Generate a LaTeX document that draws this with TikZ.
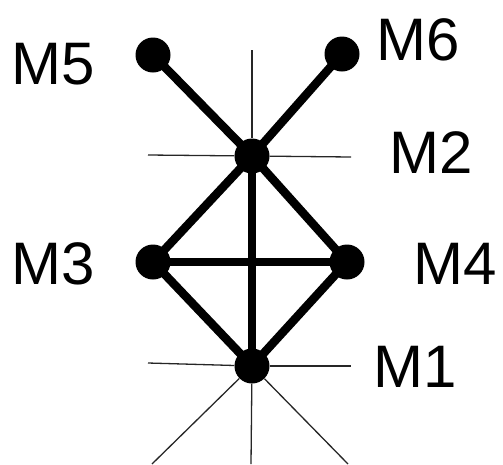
\documentclass[tikz,border=0pt]{standalone}
\usepackage{fontspec}
\setmainfont{Liberation Sans}
\usepackage{tikz}

\begin{document}
\begin{tikzpicture}[x=1pt,y=-1pt,
  dot/.style={circle,fill=black,inner sep=0pt,minimum size=35pt},
  bond/.style={black,line width=8.5pt},
  ray/.style={black!85,line width=1.3pt},
  lbl/.style={inner sep=0pt,font=\fontsize{60}{60}\selectfont}]

\useasboundingbox (0,0) rectangle (503,464);

\coordinate(h2l) at (148,155);
\coordinate(h2r) at (351,157);
\coordinate(v2t) at (252,50);
\coordinate(h1l) at (148,363);
\coordinate(h1r) at (351,366);
\coordinate(d1l) at (152,464);
\coordinate(d1m) at (251,464);
\coordinate(d1r) at (348,464);

\node(m1)[dot] at (252,366) {};
\node(m2)[dot] at (252,156) {};
\node(m3)[dot] at (153,262) {};
\node(m4)[dot] at (347,262) {};
\node(m5)[dot] at (153,55) {};
\node(m6)[dot] at (342,54) {};

\draw[ray] (h2l) -- (m2);
\draw[ray] (m2) -- (h2r);
\draw[ray] (v2t) -- (m2);
\draw[ray] (h1l) -- (m1);
\draw[ray] (m1) -- (h1r);
\draw[ray] (m1) -- (d1l);
\draw[ray] (m1) -- (d1m);
\draw[ray] (m1) -- (d1r);

\draw[bond] (m5.center) -- (m2.center) -- (m6.center);
\draw[bond] (m2.center) -- (m3.center);
\draw[bond] (m2.center) -- (m4.center);
\draw[bond] (m2.center) -- (m1.center);
\draw[bond] (m3.center) -- (m4.center);
\draw[bond] (m3.center) -- (m1.center) -- (m4.center);

\node(l5)[lbl] at (53,64) {M5};
\node(l6)[lbl] at (418,40) {M6};
\node(l2)[lbl] at (431,153) {M2};
\node(l3)[lbl] at (53,264) {M3};
\node(l4)[lbl] at (455,264) {M4};
\node(l1)[lbl] at (415,367) {M1};

\end{tikzpicture}
\end{document}
